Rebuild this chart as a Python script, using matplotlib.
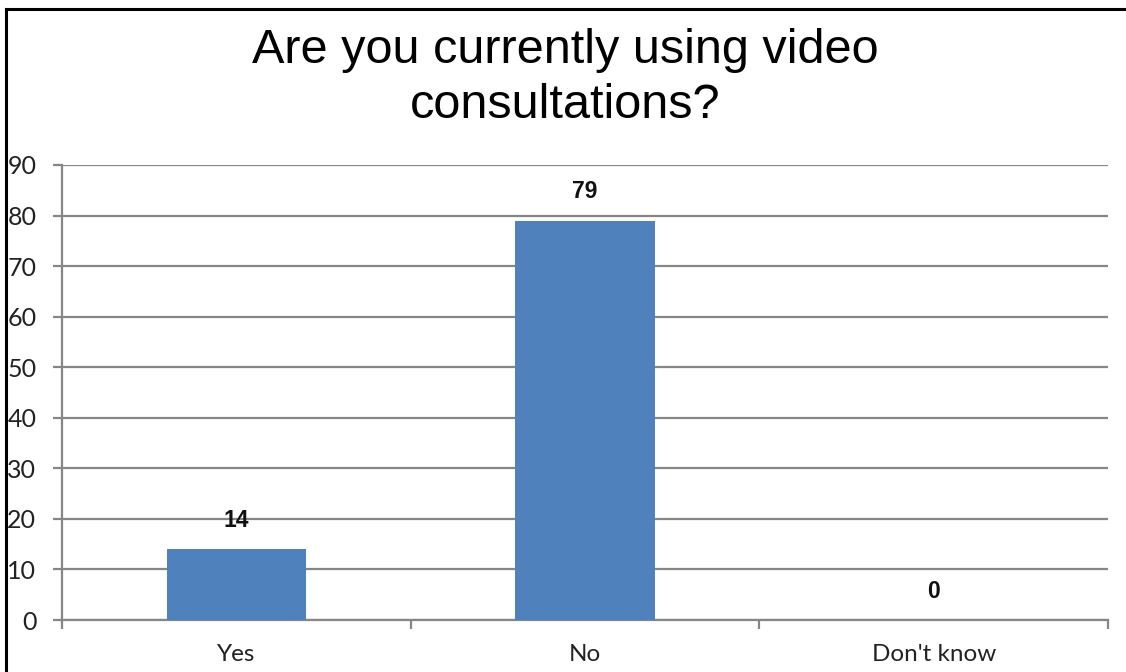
import numpy as np
import matplotlib.pyplot as plt
from matplotlib.lines import Line2D

categories = ["Yes", "No", "Don't know"]
counts = [14, 79, 0]
yticks = list(range(0, 91, 10))

W, H = 1126, 672
fig = plt.figure(figsize=(W / 100, H / 100), dpi=100)

# plot area in pixel coords of the reference
x0, x1, ytop, ybot = 62, 1108, 165, 620
ax = fig.add_axes([x0 / W, (H - ybot) / H, (x1 - x0) / W, (ybot - ytop) / H])

grid_c = '#868686'
x = np.arange(len(categories))
ax.bar(x, counts, width=0.4, color='#4F81BD', zorder=3)
for xi, v in zip(x, counts):
    ax.text(xi, v + 5.7, str(v), ha='center', va='center', fontsize=16.5,
            fontweight='bold', family='Liberation Sans', color='#111111')

ax.set_xlim(-0.5, len(categories) - 0.5)
ax.set_ylim(0, 90)
ax.set_yticks(yticks)
ax.set_yticklabels([str(t) for t in yticks], family='Lato', fontsize=18,
                   color='#222222')
ax.yaxis.grid(True, color=grid_c, linewidth=1.6, zorder=0)
ax.set_axisbelow(True)

ax.set_xticks(np.arange(-0.5, len(categories), 1.0))
ax.set_xticklabels([])
ax.set_xticks(x, minor=True)
ax.set_xticklabels(categories, minor=True, family='Lato', fontsize=17.5,
                   color='#222222')
ax.tick_params(axis='x', which='minor', length=0, pad=17)
ax.tick_params(axis='x', which='major', length=6.5, width=1.6, color=grid_c)
ax.tick_params(axis='y', length=6.5, width=1.6, color=grid_c, pad=12)

for s in ['top', 'right']:
    ax.spines[s].set_visible(False)
for s in ['left', 'bottom']:
    ax.spines[s].set_color(grid_c)
    ax.spines[s].set_linewidth(1.6)

fig.text(565 / W, 1 - 78 / H, "Are you currently using video\nconsultations?",
         ha='center', va='center', fontsize=35, family='Liberation Sans',
         linespacing=1.3)

# outer frame (only left and top are visible in the crop)
fig.add_artist(Line2D([6 / W, 6 / W], [0, 1 - 9 / H], transform=fig.transFigure,
                      color='black', linewidth=2.2))
fig.add_artist(Line2D([6 / W, 1], [1 - 9 / H, 1 - 9 / H], transform=fig.transFigure,
                      color='black', linewidth=2.2))

fig.savefig('out.png', dpi=100)
